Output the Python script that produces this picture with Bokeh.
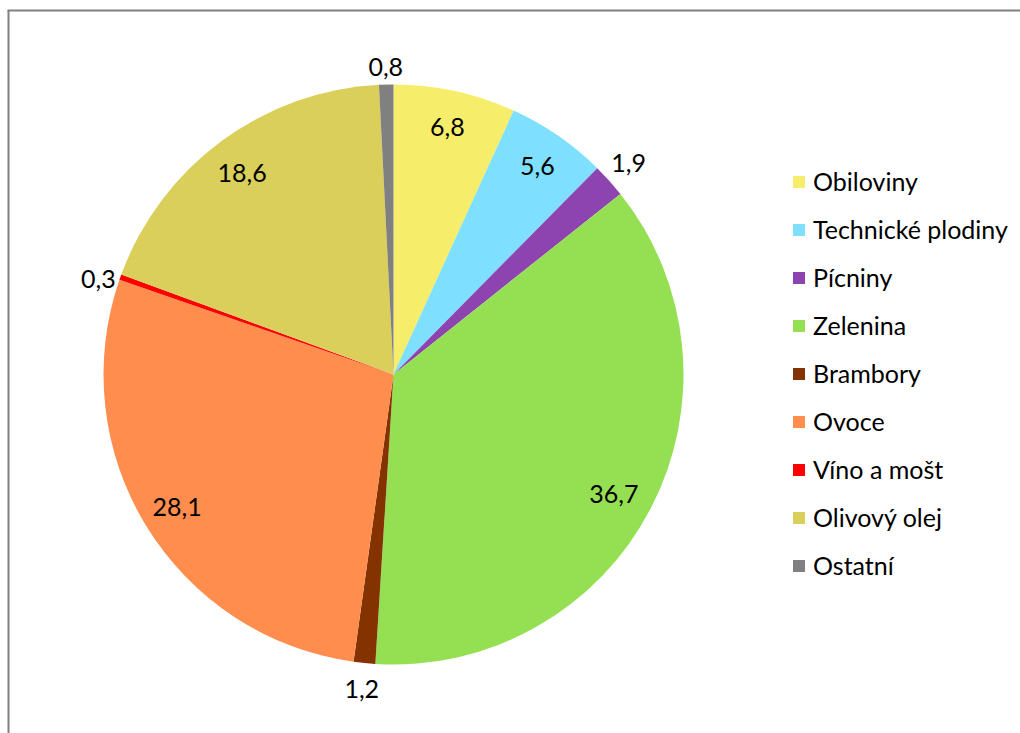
import math
from bokeh.plotting import figure
from bokeh.models import ColumnDataSource, Range1d, Legend, LegendItem
from bokeh.core.properties import value
from bokeh.embed import file_html
from bokeh.resources import INLINE

# ---- data ----
categories = ["Obiloviny", "Technické plodiny", "Pícniny", "Zelenina", "Brambory",
              "Ovoce", "Víno a mošt", "Olivový olej", "Ostatní"]
shares = [6.8, 5.6, 1.9, 36.7, 1.2, 28.1, 0.3, 18.6, 0.8]
labels = ["6,8", "5,6", "1,9", "36,7", "1,2", "28,1", "0,3", "18,6", "0,8"]

# ---- style / label placement ----
colors = ["#F6EE6A", "#7FDFFF", "#8E44B0", "#94E052", "#833200",
          "#FF8E4E", "#FF0000", "#D9CF5A", "#808080"]
label_r = [0.875, 0.875, 1.09, 0.865, 1.09, 0.875, 1.07, 0.87, 1.06]
label_nudge_deg = [0, 0, 0, -1.0, 0, 0, 1.6, 0.5, 0]
FONT = "Lato"

W, H = 1020, 733
cx, cy, R = 393, H - 374, 290

p = figure(width=W, height=H, output_backend="svg", toolbar_location=None,
           x_range=Range1d(0, W), y_range=Range1d(0, H), min_border=0)
p.axis.visible = False
p.grid.visible = False
p.outline_line_color = None
p.background_fill_color = "white"

total = sum(shares)
starts, ends, lx, ly = [], [], [], []
cum = 0.0
for v, rf, nd in zip(shares, label_r, label_nudge_deg):
    a0 = math.pi / 2 - 2 * math.pi * (cum + v) / total
    a1 = math.pi / 2 - 2 * math.pi * cum / total
    mid = (a0 + a1) / 2 + math.radians(nd)
    starts.append(a0)
    ends.append(a1)
    lx.append(cx + R * rf * math.cos(mid))
    ly.append(cy + R * rf * math.sin(mid))
    cum += v

src = ColumnDataSource(dict(cat=categories, start=starts, end=ends, color=colors,
                            lx=lx, ly=ly, lab=labels))

items = []
for i, c in enumerate(categories):
    r = p.wedge(x=cx, y=cy, radius=R, start_angle=starts[i], end_angle=ends[i],
                fill_color=colors[i], line_color=None)
    items.append(LegendItem(label=c, renderers=[r]))

p.text(x="lx", y="ly", text="lab", source=src, text_align="center",
       text_baseline="middle", text_font=value(FONT), text_font_size="25px",
       text_color="black")

# chart border (left and top edges visible)
p.segment(x0=[8, 7], y0=[0, H - 10], x1=[8, W], y1=[H - 10, H - 10],
          line_color="#808080", line_width=2)

legend = Legend(items=items, location=(791, 153), orientation="vertical",
                label_text_font=FONT, label_text_font_size="25px",
                label_text_color="black", glyph_width=15, glyph_height=15,
                label_height=24, spacing=18, padding=0, margin=0,
                border_line_color=None, background_fill_alpha=0,
                label_standoff=7)
p.add_layout(legend)

open("out.html", "w").write(file_html(p, INLINE))
